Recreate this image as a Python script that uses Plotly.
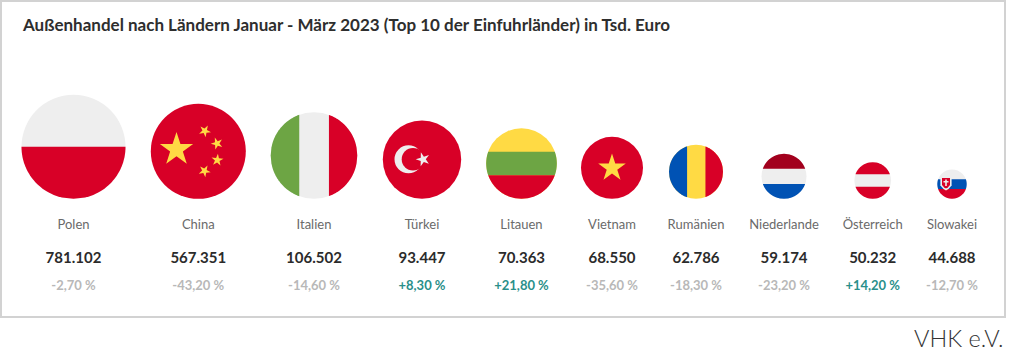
import math
import plotly.graph_objects as go

# ---- data ----
countries = ["Polen", "China", "Italien", "Türkei", "Litauen", "Vietnam",
             "Rumänien", "Niederlande", "Österreich", "Slowakei"]
values = [781102, 567351, 106502, 93447, 70363, 68550, 62786, 59174, 50232, 44688]
changes = [-2.7, -43.2, -14.6, 8.3, 21.8, -35.6, -18.3, -23.2, 14.2, -12.7]
title = "Außenhandel nach Ländern Januar - März 2023 (Top 10 der Einfuhrländer) in Tsd. Euro"
credit = "VHK e.V."

# ---- layout (figure works in pixel units) ----
W, H = 1024, 354
CX = [73.5, 198.3, 314, 422, 521.5, 612, 696, 784, 872.7, 952]
DIAM = [104, 95, 86.6, 78.4, 70.6, 62, 54, 45, 36.6, 29.4]
BASE_Y = 198.8
NAME_Y, VALUE_Y, CHANGE_Y = 225.5, 259.5, 287

RED, WHITE, GREEN, YEL, BLUE, DRED = "#d80027", "#eeeeee", "#6da544", "#ffda44", "#0052b4", "#a2001d"
BASE_COL = [WHITE, RED, WHITE, RED, YEL, RED, YEL, WHITE, WHITE, WHITE]
CY = [BASE_Y - d / 2 for d in DIAM]
R = [d / 2 for d in DIAM]
shapes = []


def poly(pts, color):
    p = "M" + " L".join(f"{x:.2f},{y:.2f}" for x, y in pts) + " Z"
    shapes.append(dict(type="path", path=p, fillcolor=color, line=dict(width=0), layer="above"))


def hband(i, a, b, color):
    """Horizontal stripe of flag i between relative heights a and b (-1..1)."""
    n = 40
    ts = [a + (b - a) * k / n for k in range(n + 1)]
    left = [(CX[i] - R[i] * math.sqrt(max(0, 1 - t * t)), CY[i] + R[i] * t) for t in ts]
    right = [(CX[i] + R[i] * math.sqrt(max(0, 1 - t * t)), CY[i] + R[i] * t) for t in reversed(ts)]
    poly(left + right, color)


def vband(i, a, b, color):
    n = 40
    ts = [a + (b - a) * k / n for k in range(n + 1)]
    top = [(CX[i] + R[i] * t, CY[i] - R[i] * math.sqrt(max(0, 1 - t * t))) for t in ts]
    bot = [(CX[i] + R[i] * t, CY[i] + R[i] * math.sqrt(max(0, 1 - t * t))) for t in reversed(ts)]
    poly(top + bot, color)


def star(x, y, r, color, rot=0.0):
    pts = []
    for k in range(10):
        rr = r if k % 2 == 0 else r * 0.382
        a = -math.pi / 2 + rot + k * math.pi / 5
        pts.append((x + rr * math.cos(a), y + rr * math.sin(a)))
    poly(pts, color)


def disc(x, y, r, color):
    shapes.append(dict(type="circle", x0=x - r, x1=x + r, y0=y - r, y1=y + r,
                       fillcolor=color, line=dict(width=0), layer="above"))


# Polen
hband(0, 0, 1, RED)
# China
star(176.5, 149.5, 17.5, YEL)
star(204.8, 131, 6.3, YEL, 0.5)
star(217, 143.5, 6.3, YEL, 0.9)
star(217.3, 160, 6.3, YEL, 0.1)
star(204.5, 171, 6.3, YEL, 0.5)
# Italien
vband(2, -1, -0.34, GREEN)
vband(2, 0.345, 1, RED)
# Türkei
disc(408.5, 159.3, 14, WHITE)
disc(413, 159.3, 11.3, RED)
star(423, 159.3, 7.3, WHITE, -0.3)
# Litauen
hband(4, -0.33, 0.33, GREEN)
hband(4, 0.33, 1, RED)
# Vietnam
star(612, 168, 14.5, YEL)
# Rumänien
vband(6, -1, -0.33, BLUE)
vband(6, 0.35, 1, RED)
# Niederlande
hband(7, -1, -0.34, DRED)
hband(7, 0.34, 1, BLUE)
# Österreich
hband(8, -1, -0.34, RED)
hband(8, 0.34, 1, RED)
# Slowakei
hband(9, -0.33, 0.33, BLUE)
hband(9, 0.33, 1, RED)
sx, sy = 946, 183.5
poly([(sx - 5.6, sy - 7), (sx + 5.6, sy - 7), (sx + 5.6, sy + 2), (sx + 2.5, sy + 5.5), (sx, sy + 7),
      (sx - 2.5, sy + 5.5), (sx - 5.6, sy + 2)], WHITE)
poly([(sx - 4, sy - 5.5), (sx + 4, sy - 5.5), (sx + 4, sy + 1.5), (sx + 1.8, sy + 4), (sx, sy + 5),
      (sx - 1.8, sy + 4), (sx - 4, sy + 1.5)], RED)
poly([(sx - 0.8, sy - 4), (sx + 0.8, sy - 4), (sx + 0.8, sy - 2.6), (sx + 2.5, sy - 2.6), (sx + 2.5, sy - 1),
      (sx + 0.8, sy - 1), (sx + 0.8, sy + 2.5), (sx - 0.8, sy + 2.5), (sx - 0.8, sy - 1), (sx - 2.5, sy - 1),
      (sx - 2.5, sy - 2.6), (sx - 0.8, sy - 2.6)], WHITE)

# Frame
shapes.insert(0, dict(type="rect", x0=1, x1=1005, y0=1, y1=317, fillcolor="rgba(0,0,0,0)",
                      line=dict(color="#d2d2d2", width=2), layer="below"))


def fmt_value(v):
    return f"{v:,}".replace(",", ".")


def fmt_change(c):
    return f"{c:+.2f}".replace(".", ",") + " %"


FONT = "Lato"
fig = go.Figure()
fig.add_trace(go.Scatter(x=CX, y=CY, mode="markers", hoverinfo="skip",
                         marker=dict(size=DIAM, color=BASE_COL, line=dict(width=0), opacity=1)))
fig.add_trace(go.Scatter(x=CX, y=[NAME_Y] * 10, mode="text", text=countries, hoverinfo="skip",
                         textposition="middle center",
                         textfont=dict(family=FONT, size=13, color="#6a6a6a")))
fig.add_trace(go.Scatter(x=CX, y=[VALUE_Y] * 10, mode="text", text=[fmt_value(v) for v in values],
                         hoverinfo="skip", textposition="middle center",
                         textfont=dict(family=FONT, size=15, color="#2b2b2b", weight=700)))
fig.add_trace(go.Scatter(x=CX, y=[CHANGE_Y] * 10, mode="text", text=[fmt_change(c) for c in changes],
                         hoverinfo="skip", textposition="middle center",
                         textfont=dict(family=FONT, size=13, weight=700,
                                       color=["#2a8f8a" if c > 0 else "#b8b8b8" for c in changes])))

fig.update_layout(
    width=W, height=H, margin=dict(l=0, r=0, t=0, b=0, pad=0), showlegend=False,
    paper_bgcolor="white", plot_bgcolor="white", shapes=shapes,
    xaxis=dict(range=[0, W], visible=False, fixedrange=True),
    yaxis=dict(range=[H, 0], visible=False, fixedrange=True),
    annotations=[
        dict(x=20, y=24, xref="x", yref="y", text=title, showarrow=False, xanchor="left", yanchor="middle",
             font=dict(family=FONT, size=17, color="#2e2e2e", weight=700)),
        dict(x=1005, y=338, xref="x", yref="y", text=credit, showarrow=False, xanchor="right", yanchor="middle",
             font=dict(family=FONT, size=23.5, color="#333333", weight=300)),
    ],
)
fig.write_html("out.html", config=dict(displayModeBar=False),
               post_script="document.body.style.margin='0';document.documentElement.style.overflow='hidden';")
